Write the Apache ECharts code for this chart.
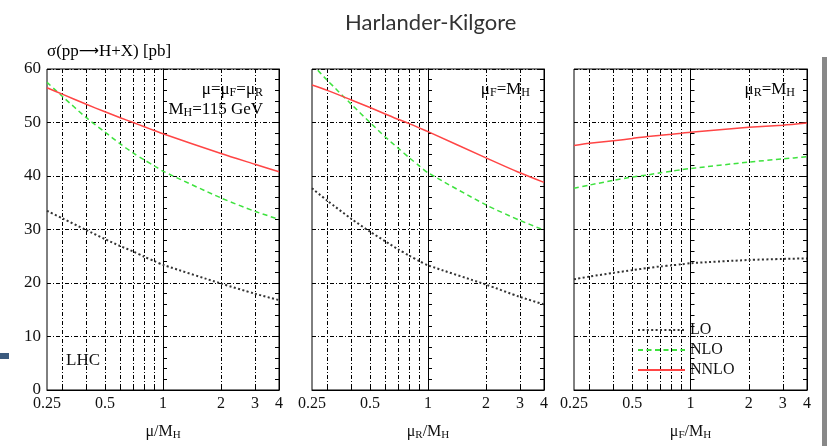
<!DOCTYPE html>
<html>
<head>
<meta charset="utf-8">
<script src="https://cdn.jsdelivr.net/npm/echarts@6/dist/echarts.min.js"></script>
<style>
  html, body { margin: 0; padding: 0; background: #fff; }
  #chart { width: 827px; height: 446px; }
</style>
</head>
<body>
<div id="chart"></div>
<script>
// Scale factor (mu / M_H) at which each cross section is sampled
const scales = [0.25, 0.3, 0.4, 0.5, 0.6, 0.7, 0.8, 0.9, 1, 2, 3, 4];

// Panel 1: mu = mu_F = mu_R varied together
const loMu   = [33.5, 32.1, 29.9, 28.2, 26.9, 25.9, 24.9, 24.1, 23.4, 19.9, 18.0, 16.8];
const nloMu  = [57.5, 54.9, 50.9, 48.2, 46.0, 44.3, 43.0, 41.9, 40.9, 35.9, 33.4, 31.9];
const nnloMu = [56.5, 55.3, 53.4, 52.0, 50.9, 50.0, 49.2, 48.5, 47.9, 44.2, 42.2, 40.8];

// Panel 2: mu_R varied, mu_F = M_H
const loMuR   = [37.7, 35.4, 32.0, 29.6, 27.8, 26.3, 25.1, 24.1, 23.3, 19.7, 17.4, 16.0];
const nloMuR  = [60.9, 57.9, 53.4, 50.0, 47.3, 45.2, 43.4, 41.9, 40.6, 34.6, 31.7, 29.9];
const nnloMuR = [57.0, 56.0, 54.2, 52.8, 51.6, 50.6, 49.8, 49.0, 48.3, 43.4, 40.6, 38.8];

// Panel 3: mu_F varied, mu_R = M_H
const loMuF   = [20.7, 21.2, 21.9, 22.4, 22.8, 23.1, 23.3, 23.5, 23.7, 24.3, 24.5, 24.6];
const nloMuF  = [37.7, 38.3, 39.2, 39.8, 40.2, 40.6, 40.9, 41.2, 41.4, 42.6, 43.2, 43.6];
const nnloMuF = [45.7, 46.1, 46.6, 47.0, 47.4, 47.6, 47.8, 48.0, 48.2, 49.1, 49.5, 49.9];

// Axis ticks
const xLabelTicks = [0.25, 0.5, 1, 2, 3, 4];
const xGridTicks  = [0.3, 0.4, 0.5, 0.6, 0.7, 0.8, 0.9, 1, 2, 3];
const yMin = 0, yMax = 60, yStep = 10;

const seriesNames = ['LO', 'NLO', 'NNLO'];

const panels = [
  { lo: loMu,  nlo: nloMu,  nnlo: nnloMu,  xName: '{t|μ/M}{s|H}' },
  { lo: loMuR, nlo: nloMuR, nnlo: nnloMuR, xName: '{t|μ}{s|R}{t|/M}{s|H}' },
  { lo: loMuF, nlo: nloMuF, nnlo: nnloMuF, xName: '{t|μ}{s|F}{t|/M}{s|H}' }
];

const serif = '"Liberation Serif", "DejaVu Serif", serif';
const gridPos = [
  { left: 47, width: 232 },
  { left: 312, width: 232 },
  { left: 574, width: 233 }
];
const plotTop = 69, plotHeight = 325;

const dashDot = [4, 2, 1, 2];
const richSub = {
  t: { fontFamily: serif, fontSize: 16, color: '#111', lineHeight: 17, verticalAlign: 'top' },
  s: { fontFamily: serif, fontSize: 11, color: '#111', lineHeight: 11, verticalAlign: 'bottom' }
};
const richAnn = {
  t: { fontFamily: serif, fontSize: 17, color: '#111', lineHeight: 18, verticalAlign: 'top' },
  s: { fontFamily: serif, fontSize: 12, color: '#111', lineHeight: 12, verticalAlign: 'bottom' }
};

const lg = v => Math.log2(v);
const fmtScale = v => String(Math.round(Math.pow(2, v) * 100) / 100);

const grids = [], xAxes = [], yAxes = [], series = [];
panels.forEach((p, i) => {
  grids.push({
    left: gridPos[i].left, width: gridPos[i].width, top: plotTop, height: plotHeight,
    show: true, borderColor: '#000', borderWidth: 1, backgroundColor: '#fff'
  });
  xAxes.push({
    type: 'value', gridIndex: i, min: lg(scales[0]), max: lg(scales[scales.length - 1]),
    axisLine: { show: true, lineStyle: { color: '#000', width: 1 } },
    axisTick: { show: true, inside: true, length: 4, customValues: xGridTicks.map(lg), lineStyle: { color: '#000' } },
    axisLabel: {
      show: true, customValues: xLabelTicks.map(lg), formatter: fmtScale,
      fontFamily: serif, fontSize: 16, color: '#111', margin: 6
    },
    splitLine: { show: true, lineStyle: { color: '#000', type: dashDot, width: 1 } },
    name: p.xName, nameLocation: 'middle', nameGap: 34,
    nameTextStyle: { rich: richSub }
  });
  // left axis (with labels on the first panel only)
  yAxes.push({
    type: 'value', gridIndex: i, min: yMin, max: yMax, interval: yStep, position: 'left',
    axisLine: { show: true, lineStyle: { color: '#000', width: 1 } },
    axisTick: { show: true, inside: true, length: 5, lineStyle: { color: '#000' } },
    minorTick: { show: true, splitNumber: 5, length: 4, lineStyle: { color: '#000' } },
    axisLabel: { show: i === 0, fontFamily: serif, fontSize: 17, color: '#111', margin: 6 },
    splitLine: { show: true, lineStyle: { color: '#000', type: dashDot, width: 1 } }
  });
  // right axis: ticks only
  yAxes.push({
    type: 'value', gridIndex: i, min: yMin, max: yMax, interval: yStep, position: 'right',
    axisLine: { show: true, lineStyle: { color: '#000', width: 1 } },
    axisTick: { show: true, inside: true, length: 5, lineStyle: { color: '#000' } },
    minorTick: { show: true, splitNumber: 5, length: 4, lineStyle: { color: '#000' } },
    axisLabel: { show: false },
    splitLine: { show: false }
  });
  const styles = [
    { key: 'lo',   color: '#333333', width: 2,   type: [2, 2.4] },
    { key: 'nlo',  color: '#3ee23e', width: 1.5, type: [5, 3.5] },
    { key: 'nnlo', color: '#ff4545', width: 1.5, type: 'solid' }
  ];
  styles.forEach((s, k) => {
    series.push({
      name: seriesNames[k], type: 'line', xAxisIndex: i, yAxisIndex: 2 * i,
      data: scales.map((t, j) => [lg(t), p[s.key][j]]),
      symbol: 'none', smooth: 0.25, clip: true,
      lineStyle: { color: s.color, width: s.width, type: s.type },
      itemStyle: { color: s.color },
      z: 3, animation: false
    });
  });
});

const annText = (right, y, text) => ({
  type: 'text', right: right, top: y,
  style: { text: text, rich: richAnn, align: 'right' }, z: 10
});

const option = {
  backgroundColor: '#fff',
  animation: false,
  grid: grids, xAxis: xAxes, yAxis: yAxes, series: series,
  legend: {
    data: seriesNames, orient: 'vertical', left: 632, top: 317,
    itemWidth: 47, itemHeight: 12, itemGap: 4,
    itemStyle: { opacity: 0 },
    textStyle: { fontFamily: serif, fontSize: 16, color: '#111' }
  },
  title: {
    text: 'Harlander-Kilgore', left: 340, top: 7,
    textStyle: { fontFamily: 'Lato, "Open Sans", sans-serif', fontWeight: 'normal', fontSize: 22, color: '#333' }
  },
  graphic: [
    {
      type: 'text', left: 47, top: 43,
      style: {
        text: '{t|σ(pp}{a|⟶}{t|H+X) [pb]}',
        rich: {
          t: { fontFamily: serif, fontSize: 17, color: '#111' },
          a: { fontFamily: '"DejaVu Sans", sans-serif', fontSize: 14, color: '#111' }
        }
      }
    },
    annText(827 - 263, 81, '{t|μ=μ}{s|F}{t|=μ}{s|R}'),
    annText(827 - 263, 101, '{t|M}{s|H}{t|=115 GeV}'),
    annText(827 - 530, 81, '{t|μ}{s|F}{t|=M}{s|H}'),
    annText(827 - 795, 81, '{t|μ}{s|R}{t|=M}{s|H}'),
    { type: 'text', left: 66, top: 352, style: { text: 'LHC', fontFamily: serif, fontSize: 17, fill: '#111' }, z: 10 },
    { type: 'rect', left: 0, top: 353, shape: { width: 9, height: 6 }, style: { fill: '#3b5a7e' } },
    { type: 'rect', left: 822, top: 57, shape: { width: 5, height: 389 }, style: { fill: '#888888' } }
  ]
};

const chart = echarts.init(document.getElementById('chart'), null, { renderer: 'canvas' });
chart.setOption(option);
</script>
</body>
</html>
